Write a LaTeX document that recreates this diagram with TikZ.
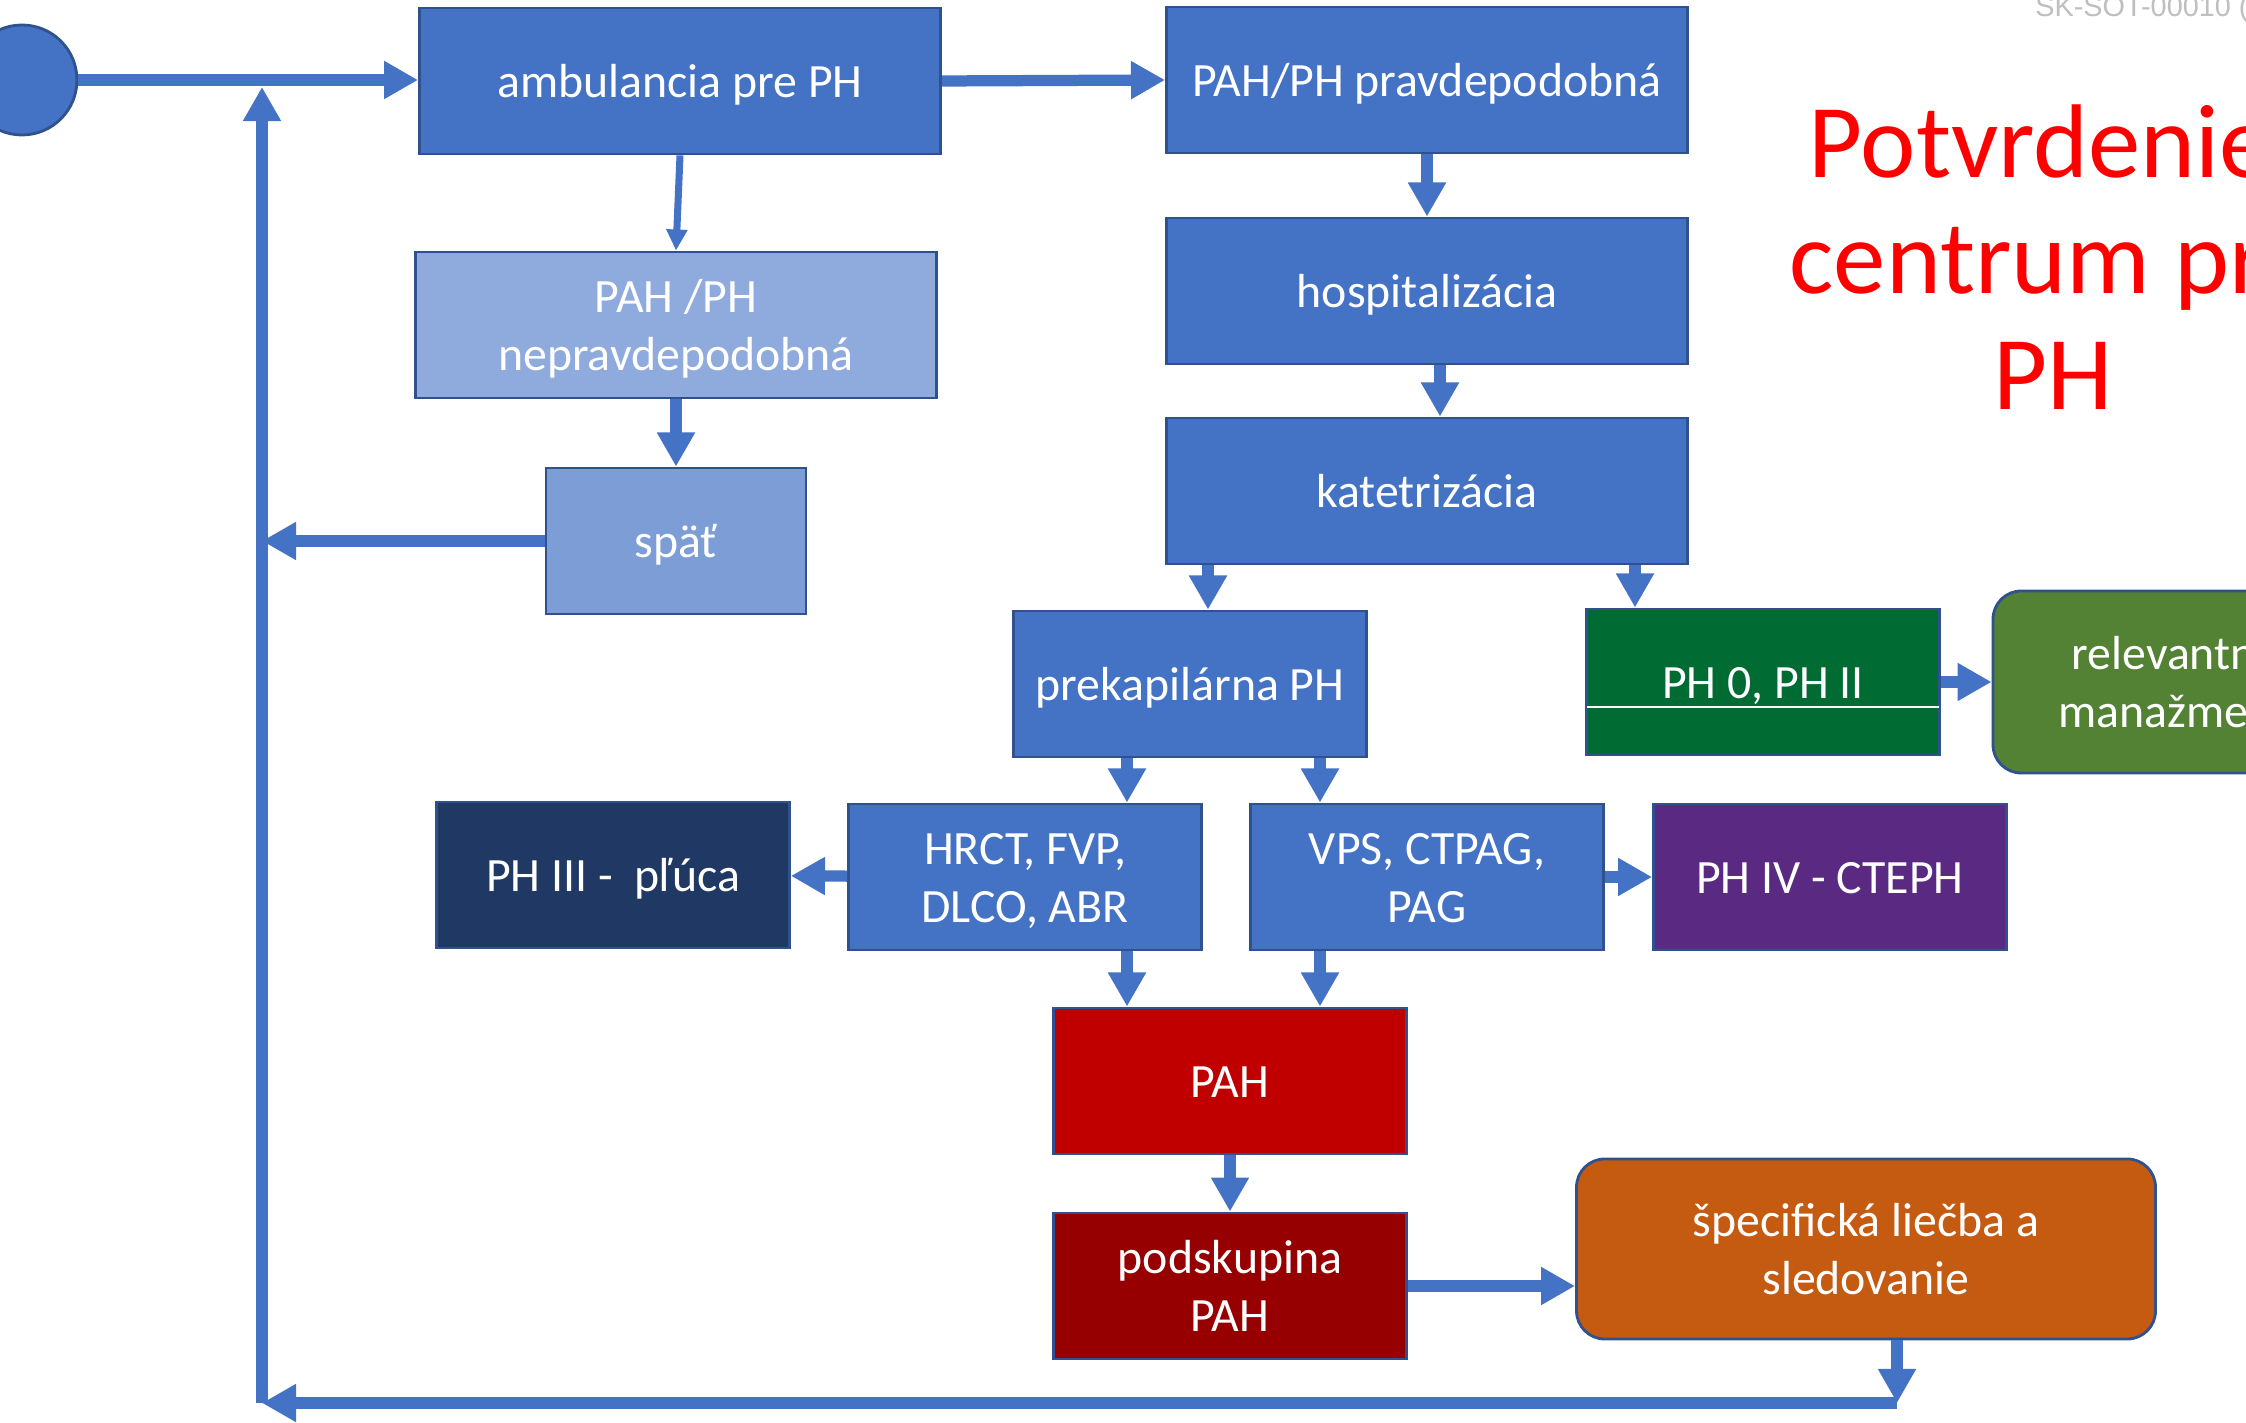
\documentclass[tikz,border=0pt]{standalone}
\usepackage{fontspec}
\setmainfont{Carlito}
\newfontfamily\codefont{Liberation Sans}
\usetikzlibrary{arrows.meta}

\definecolor{boxblue}{HTML}{4472C4}
\definecolor{boxedge}{HTML}{2F528F}
\definecolor{lightblue}{HTML}{8FAADC}
\definecolor{midblue}{HTML}{7C9DD6}
\definecolor{navyblue}{HTML}{203864}
\definecolor{darkgreen}{HTML}{006B33}
\definecolor{olivegreen}{HTML}{548235}
\definecolor{phpurple}{HTML}{5A2A82}
\definecolor{pahred}{HTML}{C00000}
\definecolor{darkred}{HTML}{960000}
\definecolor{burntorange}{HTML}{C55A11}
\definecolor{codegray}{HTML}{BFBFBF}

\newcommand\topstrut{\rule{0pt}{0.952em}}
\newcommand\botstrut{\rule[-0.269em]{0pt}{0pt}}

\begin{document}
\begin{tikzpicture}[x=0.1mm,y=-0.1mm,
    flowbox/.style={draw=boxedge,line width=0.8pt,fill=boxblue,text=white,align=center,inner sep=0pt,
        font=\fontsize{13.6}{16.4}\selectfont,
        execute at begin node=\topstrut,execute at end node=\botstrut},
    widebox/.style={flowbox,minimum width=52.1mm,minimum height=14.6mm},
    smallbox/.style={flowbox,minimum width=35.3mm,minimum height=14.6mm},
    roundbox/.style={flowbox,rounded corners=8pt},
    flow/.style={draw=boxblue,line width=3.2pt,-{Triangle[length=9.7pt,width=10.2pt]}},
    thinflow/.style={flow,line width=2pt,-{Triangle[length=6pt,width=5.7pt]}}]
    \useasboundingbox (0,0) rectangle (2246,1423);
    \clip (0,0) rectangle (2246,1423);
    \fill[white] (0,0) rectangle (2246,1423);

    \node[circle,fill=boxblue,draw=boxedge,line width=0.8pt,minimum size=11mm,inner sep=0pt] (start) at (22,80) {};
    \node[widebox] (amb) at (680,81) {ambulancia pre PH};
    \node[widebox] (prav) at (1427,80) {PAH/PH pravdepodobná};
    \node[widebox,fill=lightblue] (neprav) at (676,325) {\topstrut PAH /PH\\nepravdepodobná};
    \node[widebox] (hosp) at (1427,291) {hospitalizácia};
    \node[flowbox,minimum width=26mm,minimum height=14.6mm,fill=midblue] (spat) at (676,541) {späť};
    \node[widebox] (kat) at (1427,491) {katetrizácia};

    \node[smallbox] (prek) at (1190,684) {prekapilárna PH};
    \node[smallbox,fill=darkgreen] (ph0) at (1763,682) {PH 0, PH II};
    \node[roundbox,fill=olivegreen,minimum width=36.2mm,minimum height=18.2mm] (rel) at (2174,682) {\topstrut relevantný\\manažment};
    \draw[white,line width=0.4pt] ([xshift=0.2mm,yshift=-2.5mm]ph0.west) -- ([xshift=-0.2mm,yshift=-2.5mm]ph0.east);

    \node[smallbox,fill=navyblue] (ph3) at (613,875) {PH III -\ \ pľúca};
    \node[smallbox] (hrct) at (1025,877) {\topstrut HRCT, FVP,\\DLCO, ABR};
    \node[smallbox] (vps) at (1427,877) {\topstrut VPS, CTPAG,\\PAG};
    \node[smallbox,fill=phpurple] (ph4) at (1830,877) {PH IV - CTEPH};

    \node[smallbox,fill=pahred] (pah) at (1230,1081) {PAH};
    \node[smallbox,fill=darkred] (podsk) at (1230,1286) {\topstrut podskupina\\PAH};
    \node[roundbox,fill=burntorange,minimum width=57.9mm,minimum height=18mm] (spec) at (1866,1249) {\topstrut špecifická liečba a\\sledovanie};

    \node[text=red,align=center,font=\fontsize{29.8}{33}\selectfont] (title) at (2053,257) {Potvrdenie\kern0.24em\\centrum pre\\PH};
    \node[text=codegray,anchor=base west,font=\codefont\fontsize{8.2}{9}\selectfont] (code) at (2023,17) {SK-SOT-00010 (};

    \coordinate (corR) at (1897,1403);
    \coordinate (corL) at (262,1403);
    \coordinate (corT) at (262,87);

    \draw[flow] (start.east) -- (start.east -| amb.west);
    \draw[flow] (amb.east) -- (prav.west);
    \draw[thinflow] (amb.south) -- (neprav.north);
    \draw[flow] (prav) -- (hosp);
    \draw[flow] ([xshift=1.3mm]hosp.south) -- ([xshift=1.3mm]kat.north);
    \draw[flow] (neprav) -- (spat);
    \draw[flow] (spat.west) -- (spat.west -| corL);

    \draw[flow] ([xshift=1.8mm]prek.north |- kat.south) -- ([xshift=1.8mm]prek.north);
    \draw[flow] ([xshift=-12.8mm]ph0.north |- kat.south) -- ([xshift=-12.8mm]ph0.north);
    \draw[flow] (ph0) -- (rel);
    \draw[flow] ([xshift=-6.3mm]prek.south) -- ([xshift=-6.3mm]prek.south |- hrct.north);
    \draw[flow] ([xshift=13mm]prek.south) -- ([xshift=13mm]prek.south |- vps.north);
    \draw[flow] (hrct) -- (ph3);
    \draw[flow] (vps) -- (ph4);
    \draw[flow] ([xshift=-10.3mm]pah.north |- hrct.south) -- ([xshift=-10.3mm]pah.north);
    \draw[flow] ([xshift=9mm]pah.north |- vps.south) -- ([xshift=9mm]pah.north);
    \draw[flow] (pah) -- (podsk);
    \draw[flow] (podsk.east) -- (podsk.east -| spec.west);

    \draw[flow] (corR |- spec.south) -- (corR);
    \draw[flow] (corR) -- (corL);
    \draw[flow] (corL) -- (corT);
\end{tikzpicture}
\end{document}
